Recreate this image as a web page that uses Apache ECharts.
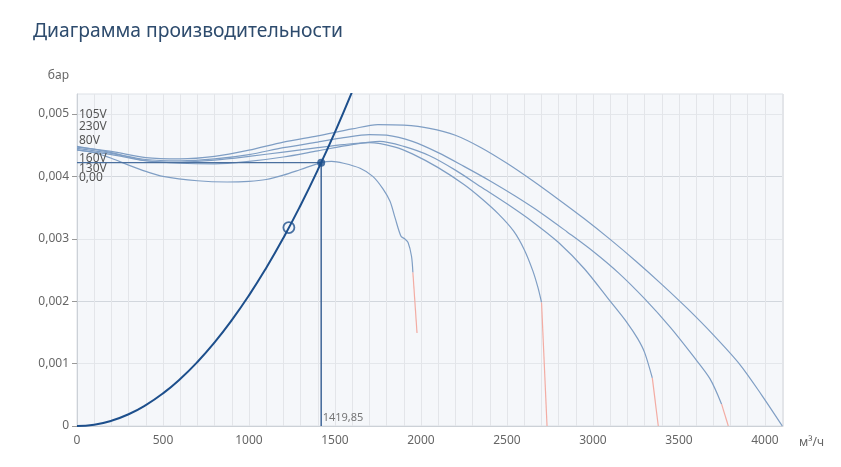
<!DOCTYPE html>
<html><head><meta charset="utf-8">
<script src="https://cdn.jsdelivr.net/npm/echarts@6/dist/echarts.min.js"></script>
<style>html,body{margin:0;padding:0;background:#fff}#c{width:841px;height:467px}</style>
</head><body><div id="c"></div>
<script>
const chartTitle = 'Диаграмма производительности';
const xName = 'м³/ч';
const yName = 'бар';
const curveLabels = ['105V', '230V', '80V', '160V', '130V', '0,00'];
const xTickLabels = [0, 500, 1000, 1500, 2000, 2500, 3000, 3500, 4000];
const yTickLabels = [0, 0.001, 0.002, 0.003, 0.004, 0.005];

const curveA = [[0,0.00447],[200,0.00440],[400,0.00430],[600,0.00428],[800,0.00432],[1000,0.00442],[1200,0.00455],[1400,0.00465],[1600,0.00476],[1750,0.00483],[1900,0.00482],[2050,0.00477],[2200,0.00466],[2350,0.00446],[2500,0.00421],[2650,0.00393],[2800,0.00363],[2950,0.00332],[3100,0.00299],[3250,0.00264],[3400,0.00227],[3550,0.00188],[3700,0.00146],[3850,0.00100],[3980,0.00050],[4101,0]];
const curveB = [[0,0.00445],[200,0.00437],[400,0.00427],[600,0.00425],[800,0.00428],[1000,0.00435],[1200,0.00446],[1400,0.00455],[1550,0.00462],[1700,0.00467],[1800,0.00466],[1950,0.00456],[2100,0.00438],[2250,0.00416],[2400,0.00393],[2550,0.00368],[2700,0.00341],[2850,0.00311],[3000,0.00280],[3150,0.00245],[3300,0.00204],[3450,0.00158],[3580,0.00113],[3680,0.00076],[3748,0.00035]];
const redB = [[3748,0.00035],[3787,0]];
const curveC = [[0,0.00442],[200,0.00435],[400,0.00425],[600,0.00421],[800,0.00420],[1000,0.00424],[1200,0.00431],[1400,0.00441],[1600,0.00451],[1760,0.00456],[1900,0.00448],[2050,0.00433],[2200,0.00410],[2350,0.00383],[2500,0.00356],[2650,0.00327],[2800,0.00294],[2950,0.00252],[3100,0.00200],[3200,0.00165],[3260,0.00140],[3300,0.00118],[3345,0.00077]];
const redC = [[3345,0.00077],[3380,0]];
const curveD = [[0,0.00448],[200,0.00438],[400,0.00425],[600,0.00423],[800,0.00426],[1000,0.00432],[1200,0.00439],[1400,0.00446],[1550,0.00451],[1700,0.00454],[1850,0.00447],[1950,0.00436],[2100,0.00414],[2250,0.00387],[2350,0.00365],[2450,0.00340],[2540,0.00312],[2600,0.00283],[2650,0.00249],[2680,0.00222],[2701,0.00198]];
const redD = [[2701,0.00198],[2733,0]];
const curveE = [[0,0.00443],[100,0.00438],[200,0.00429],[300,0.00418],[400,0.00408],[500,0.00400],[700,0.00393],[873,0.00391],[1000,0.00392],[1100,0.00395],[1200,0.00402],[1300,0.00411],[1420,0.00422],[1480,0.00424],[1550,0.00421],[1646,0.00413],[1720,0.00400],[1779,0.00380],[1820,0.00360],[1850,0.00333],[1884,0.00304],[1905,0.00300],[1925,0.00294],[1945,0.00272],[1953,0.00246]];
const redE = [[1953,0.00246],[1977,0.00149]];
const systemCurve = [[0,0],[100,0.000021],[200,0.000084],[300,0.000188],[400,0.000335],[500,0.000523],[600,0.000754],[700,0.001026],[800,0.00134],[900,0.001696],[1000,0.002093],[1100,0.002533],[1200,0.003014],[1300,0.003538],[1400,0.004103],[1500,0.00471],[1600,0.005359]];
const operatingPoint = [1419.85, 0.00422];
const designPoint = [1232, 0.00318];
const operatingLabel = '1419,85';

const blue = '#7f9ec4';
const red = '#f3aca3';
const dark = '#1d4f8c';
const fontFamily = '"Noto Sans", "Open Sans", sans-serif';

function fmtY(v) { return v === 0 ? '0' : v.toFixed(3).replace('.', ','); }

const blueCurves = [curveA, curveB, curveC, curveD, curveE];
const redCurves = [redB, redC, redD, redE];

const series = [];
blueCurves.forEach(function (d) {
  series.push({ type: 'line', data: d, smooth: 0.3, showSymbol: false, silent: true,
    lineStyle: { color: blue, width: 1.2 }, z: 2 });
});
redCurves.forEach(function (d) {
  series.push({ type: 'line', data: d, smooth: false, showSymbol: false, silent: true,
    lineStyle: { color: red, width: 1.2 }, z: 2 });
});
series.push({ type: 'line', data: systemCurve, smooth: true, showSymbol: false,
  lineStyle: { color: dark, width: 2 }, z: 4 });
series.push({ type: 'line', data: [[0, operatingPoint[1]], operatingPoint], showSymbol: false,
  lineStyle: { color: '#4a6f9e', width: 1.3 }, z: 3 });
series.push({ type: 'line', data: [operatingPoint, [operatingPoint[0], 0]], showSymbol: false,
  lineStyle: { color: '#3f6698', width: 1.5 }, z: 3 });
series.push({ type: 'scatter', data: [[operatingPoint[0], 0]], symbol: 'circle', symbolSize: 1,
  itemStyle: { color: 'rgba(0,0,0,0)' }, silent: true, z: 6,
  label: { show: true, formatter: operatingLabel, position: 'right', distance: 1, offset: [0, -8],
    color: '#555', fontSize: 11, fontFamily: fontFamily } });
series.push({ type: 'scatter', data: [operatingPoint], symbolSize: 8, itemStyle: { color: dark }, z: 5 });
series.push({ type: 'scatter', data: [designPoint], symbol: 'circle', symbolSize: 11,
  itemStyle: { color: 'rgba(0,0,0,0)', borderColor: dark, borderWidth: 1.8 }, z: 5 });

const labelTops = [113, 125.5, 139.5, 157, 167, 176.5];
const graphics = [{ type: 'text', left: 33, top: 22,
  style: { text: chartTitle, fontSize: 19.3, fill: '#2d4b6d', fontFamily: fontFamily } }];
curveLabels.forEach(function (t, i) {
  graphics.push({ type: 'text', left: 79, top: labelTops[i] - 4.5, z: 10,
    style: { text: t, fontSize: 12, fill: '#555', fontFamily: fontFamily } });
});

const chart = echarts.init(document.getElementById('c'), null, { renderer: 'canvas' });
chart.setOption({
  animation: false,
  backgroundColor: '#fff',
  graphic: graphics,
  grid: { left: 77, right: 58, top: 94, bottom: 41, show: true, backgroundColor: '#f5f7fa', borderColor: '#dde1e6', borderWidth: 1 },
  xAxis: {
    type: 'value', min: 0, max: 4105, interval: 100,
    name: xName, nameLocation: 'end', nameGap: 16,
    nameTextStyle: { color: '#666', fontSize: 12, fontFamily: fontFamily, verticalAlign: 'top', padding: [11, 0, 0, 0] },
    axisLine: { show: true, lineStyle: { color: '#ccd1d7' } },
    axisTick: { show: false },
    axisLabel: { customValues: xTickLabels, color: '#666', fontSize: 12, fontFamily: fontFamily, margin: 9,
      formatter: function (v) { return String(v); } },
    splitLine: { show: true, lineStyle: { color: '#e3e5e9', width: 1 } }
  },
  yAxis: {
    type: 'value', min: 0, max: 0.00532, interval: 0.0005,
    name: yName, nameLocation: 'end', nameGap: 12,
    nameTextStyle: { color: '#666', fontSize: 12, fontFamily: fontFamily, align: 'right', padding: [0, 8, 0, 0] },
    axisLine: { show: true, lineStyle: { color: '#ccd1d7' } },
    axisTick: { show: true, customValues: yTickLabels, length: 5, lineStyle: { color: '#999' } },
    axisLabel: { customValues: yTickLabels, color: '#666', fontSize: 12, fontFamily: fontFamily, margin: 8,
      formatter: fmtY },
    splitLine: { show: true, lineStyle: { color: ['#d2d7dd', '#e4e7eb'], width: 1.2 } }
  },
  series: series
});
</script>
</body></html>
